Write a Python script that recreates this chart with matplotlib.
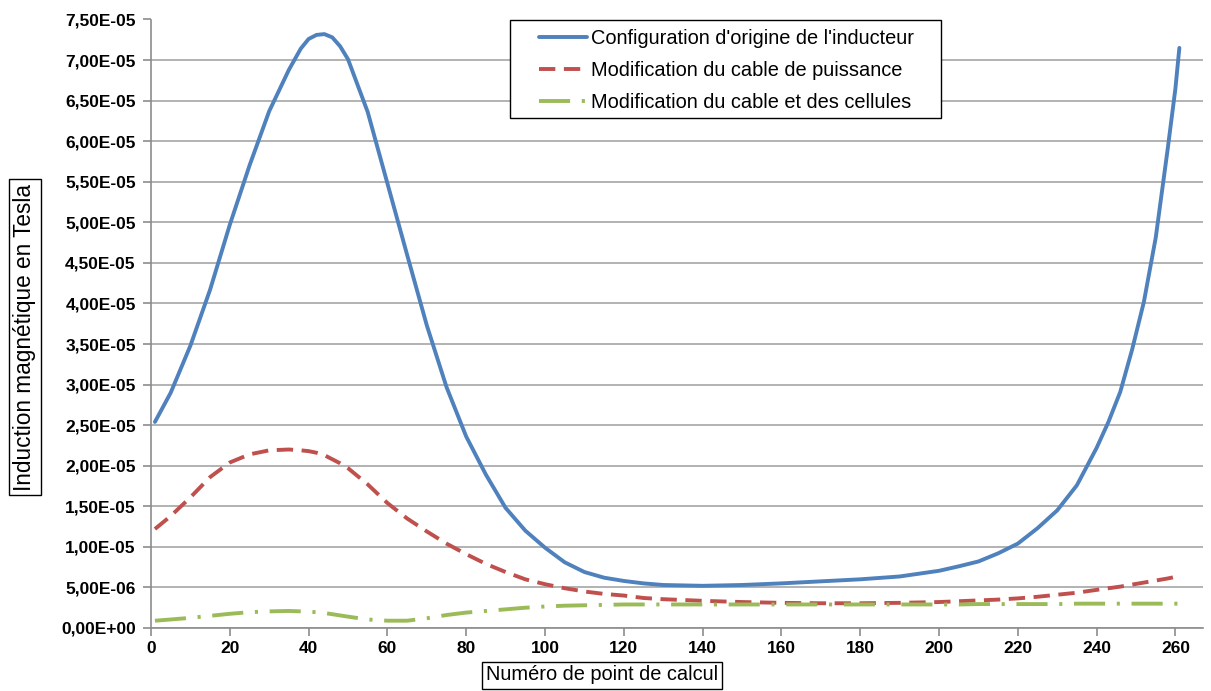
import matplotlib.pyplot as plt
from matplotlib.patches import Rectangle
from matplotlib.ticker import FuncFormatter, MultipleLocator

plt.rcParams['font.family'] = ['Liberation Sans', 'DejaVu Sans']

# numero de point de calcul
x = [1, 5, 10, 15, 20, 25, 30, 35, 38, 40, 42, 44, 46, 48, 50, 55, 60, 65,
     70, 75, 80, 85, 90, 95, 100, 105, 110, 115, 120, 125, 130, 140, 150,
     160, 170, 180, 190, 200, 205, 210, 215, 220, 225, 230, 235, 240, 243,
     246, 249, 252, 255, 258, 260, 261]

# induction en micro-Tesla
origine = [25.4, 29.0, 34.8, 41.7, 49.7, 57.0, 63.7, 68.8, 71.4, 72.6, 73.1,
           73.2, 72.8, 71.7, 70.1, 63.6, 54.8, 46.0, 37.3, 29.7, 23.6, 18.9,
           14.8, 12.0, 9.9, 8.1, 6.9, 6.2, 5.8, 5.5, 5.3, 5.2, 5.3, 5.5,
           5.75, 6.0, 6.35, 7.05, 7.6, 8.2, 9.2, 10.4, 12.3, 14.5, 17.6,
           22.2, 25.4, 29.1, 34.3, 40.2, 48.1, 58.9, 66.5, 71.5]
cable = [12.2, 13.8, 16.1, 18.6, 20.4, 21.4, 21.9, 22.0, 21.9, 21.8, 21.6,
         21.3, 20.8, 20.3, 19.7, 17.7, 15.4, 13.5, 11.9, 10.4, 9.1, 7.9,
         6.9, 6.0, 5.4, 4.9, 4.5, 4.2, 4.0, 3.7, 3.55, 3.35, 3.2, 3.1, 3.05,
         3.05, 3.1, 3.2, 3.3, 3.4, 3.5, 3.65, 3.85, 4.1, 4.35, 4.7, 4.9,
         5.1, 5.35, 5.6, 5.85, 6.1, 6.3, 6.4]
cellules = [0.9, 1.05, 1.25, 1.5, 1.75, 1.95, 2.05, 2.1, 2.05, 2.0, 1.95,
            1.85, 1.7, 1.55, 1.4, 1.05, 0.9, 0.9, 1.2, 1.6, 1.9, 2.1, 2.3,
            2.5, 2.65, 2.75, 2.8, 2.85, 2.9, 2.9, 2.9, 2.9, 2.9, 2.9, 2.9,
            2.9, 2.9, 2.9, 2.9, 2.95, 2.95, 2.95, 2.95, 2.95, 3.0, 3.0, 3.0,
            3.0, 3.0, 3.0, 3.0, 3.0, 3.0, 3.0]

labels = ["Configuration d'origine de l'inducteur",
          "Modification du cable de puissance",
          "Modification du cable et des cellules"]

fig = plt.figure(figsize=(12.11, 6.91), dpi=100)
ax = fig.add_axes([151 / 1211, 1 - 628 / 691, (1203 - 151) / 1211, (628 - 19.5) / 691])

ax.plot(x, [v * 1e-6 for v in origine], color='#4F81BD', lw=2.8,
        solid_capstyle='round', solid_joinstyle='round', label=labels[0])
ax.plot(x, [v * 1e-6 for v in cable], color='#C0504D', lw=2.8,
        dashes=(4.2, 2.2), label=labels[1])
ax.plot(x, [v * 1e-6 for v in cellules], color='#9BBB59', lw=2.8,
        dashes=(8, 3, 0.8, 3), label=labels[2])

ax.set_xlim(0, 267)
ax.set_ylim(0, 7.5e-5)
ax.set_xticks(range(0, 261, 20))
ax.yaxis.set_major_locator(MultipleLocator(5e-6))
ax.yaxis.set_major_formatter(FuncFormatter(lambda v, p: f"{v:.2E}".replace('.', ',')))

ax.grid(axis='y', color='#A6A6A6', lw=1.2)
ax.set_axisbelow(True)
for s in ['top', 'right']:
    ax.spines[s].set_visible(False)
for s in ['left', 'bottom']:
    ax.spines[s].set_color('#8C8C8C')
    ax.spines[s].set_linewidth(1.2)
ax.tick_params(colors='#8C8C8C', length=6, width=1.2, labelcolor='black',
               labelsize=12.5)
ax.tick_params(axis='y', pad=5)
for t in ax.get_xticklabels() + ax.get_yticklabels():
    t.set_fontweight('bold')

box = dict(boxstyle='square,pad=0.2', fc='white', ec='black', lw=1)
fig.text(25 / 1211, 1 - 337 / 691, "Induction magnétique en Tesla",
         rotation=90, ha='center', va='center', fontsize=16.3, bbox=box)
fig.text(602 / 1211, 1 - 675 / 691, "Numéro de point de calcul",
         ha='center', va='center', fontsize=14.4, bbox=box)

# cadre de la legende (style Excel, marges larges)
ax.add_patch(Rectangle((510 / 1211, 1 - 118 / 691), 431 / 1211, 98 / 691,
                       transform=fig.transFigure, fc='white', ec='black',
                       lw=1, zorder=4.9, clip_on=False))
leg = ax.legend(loc='upper left', bbox_to_anchor=(531 / 1211, 1 - 21 / 691),
                bbox_transform=fig.transFigure, fontsize=14.4, frameon=False,
                handlelength=2.4, handletextpad=0.2, borderpad=0.4,
                labelspacing=0.66, borderaxespad=0)
leg.set_zorder(5)

fig.savefig('out.png', dpi=100)
